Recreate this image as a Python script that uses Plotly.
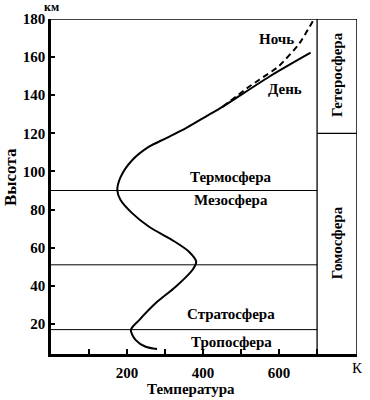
import plotly.graph_objects as go

# ---- data ----
alt_common = [6.8, 8, 11.5, 16.8, 22, 30.8, 39.5, 48.3, 52.6, 57.9, 64, 71, 78, 85, 90,
              97, 106, 113, 117.4, 122.6, 129.6, 134]
temp_common = [279, 249, 223, 210, 232, 275, 328, 372, 382, 363, 319, 258, 214, 183, 174.5,
               183, 214, 258, 302, 354, 414, 452]
alt_day = [134, 149.7, 162.3]
temp_day = [452, 574, 683]
alt_night = [134, 143.6, 148, 155, 167, 180]
temp_night = [452, 515, 547, 598, 653, 692]

layer_bounds = [17, 51, 90]          # km: tropopause, stratopause, mesopause
layer_names = ["Тропосфера", "Стратосфера", "Мезосфера", "Термосфера"]
layer_label_alt = [10.5, 25.2, 85, 97]
hetero_bound = 120                   # km
side_names = ["Гомосфера", "Гетеросфера"]
side_label_alt = [62.4, 150.6]

x_ticks = [100, 200, 300, 400, 500, 600, 700]
x_ticktext = ["", "200", "", "400", "", "600", ""]
y_ticks = [20, 40, 60, 80, 100, 120, 140, 160, 180]

X_MAX = 805
X_SPLIT = 700
Y_MIN, Y_MAX = 4.2, 180

FONT = "Liberation Serif"
BLACK = "black"

fig = go.Figure()
fig.add_trace(go.Scatter(x=temp_common + temp_day[1:], y=alt_common + alt_day[1:],
                         mode="lines", line=dict(color=BLACK, width=2, shape="spline",
                                                 smoothing=0.8),
                         showlegend=False, hoverinfo="skip"))
fig.add_trace(go.Scatter(x=temp_night, y=alt_night, mode="lines",
                         line=dict(color=BLACK, width=2, dash="6px,4px", shape="spline",
                                   smoothing=0.5),
                         showlegend=False, hoverinfo="skip"))

shapes = []
for b in layer_bounds:
    shapes.append(dict(type="line", xref="x", yref="y", x0=0, x1=X_SPLIT, y0=b, y1=b,
                       line=dict(color=BLACK, width=1)))
shapes.append(dict(type="line", xref="x", yref="y", x0=X_SPLIT, x1=X_SPLIT, y0=Y_MIN, y1=Y_MAX,
                   line=dict(color=BLACK, width=1.3)))
shapes.append(dict(type="line", xref="x", yref="y", x0=X_SPLIT, x1=X_MAX, y0=hetero_bound,
                   y1=hetero_bound, line=dict(color=BLACK, width=1.3)))
shapes.append(dict(type="line", xref="x", yref="y", x0=X_MAX, x1=X_MAX, y0=Y_MIN, y1=Y_MAX,
                   line=dict(color=BLACK, width=1.5)))
shapes.append(dict(type="line", xref="x", yref="y", x0=0, x1=X_MAX, y0=Y_MAX, y1=Y_MAX,
                   line=dict(color=BLACK, width=1.5)))

lab_font = dict(family=FONT, size=15, color=BLACK, weight="bold")
ann = []
for name, a in zip(layer_names, layer_label_alt):
    ann.append(dict(x=474, y=a, xref="x", yref="y", text=name, showarrow=False,
                    font=lab_font, xanchor="center", yanchor="middle"))
for name, a in zip(side_names, side_label_alt):
    ann.append(dict(x=(X_SPLIT + X_MAX) / 2, y=a, xref="x", yref="y", text=name,
                    showarrow=False, textangle=-90, font=lab_font,
                    xanchor="center", yanchor="middle"))
ann.append(dict(x=592, y=169.5, xref="x", yref="y", text="Ночь", showarrow=False,
                font=lab_font, xanchor="center", yanchor="middle"))
ann.append(dict(x=616, y=143.2, xref="x", yref="y", text="День", showarrow=False,
                font=lab_font, xanchor="center", yanchor="middle"))
ann.append(dict(x=0.4575, y=-0.105, xref="paper", yref="paper", text="Температура",
                showarrow=False, font=lab_font, xanchor="center", yanchor="middle"))
ann.append(dict(x=-0.134, y=0.528, xref="paper", yref="paper", text="Высота",
                showarrow=False, textangle=-90,
                font=dict(family=FONT, size=17, color=BLACK, weight="bold"),
                xanchor="center", yanchor="middle"))
ann.append(dict(x=0.003, y=1.036, xref="paper", yref="paper", text="км",
                showarrow=False, font=dict(family=FONT, size=12, color=BLACK, weight="bold"),
                xanchor="center", yanchor="middle"))
ann.append(dict(x=1.0, y=-0.042, xref="paper", yref="paper", text="К",
                showarrow=False, font=dict(family=FONT, size=15, color=BLACK),
                xanchor="center", yanchor="middle"))

tick_font = dict(family=FONT, size=15, color=BLACK, weight="bold")
fig.update_layout(
    width=370, height=400,
    margin=dict(l=51, r=13, t=19, b=46, pad=0),
    paper_bgcolor="white", plot_bgcolor="white",
    shapes=shapes, annotations=ann,
    xaxis=dict(range=[0, X_MAX], showgrid=False, zeroline=False, showline=True,
               linecolor=BLACK, linewidth=2.5, ticks="inside", ticklen=5, tickwidth=2,
               tickcolor=BLACK, tickvals=x_ticks, ticktext=x_ticktext, tickfont=tick_font,
               ticklabelstandoff=3),
    yaxis=dict(range=[Y_MIN, Y_MAX], showgrid=False, zeroline=False, showline=True,
               linecolor=BLACK, linewidth=2.5, ticks="inside", ticklen=4, tickwidth=2,
               tickcolor=BLACK, tickvals=y_ticks, tickfont=tick_font),
)

fig.write_html("out.html", config={"displayModeBar": False},
               post_script="document.body.style.margin='0';")
